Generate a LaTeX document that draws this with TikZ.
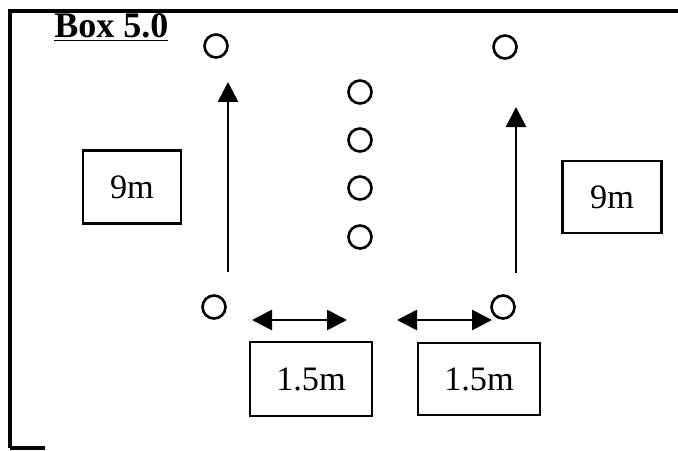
\documentclass[tikz,border=0pt]{standalone}
\usepackage{fontspec}
\setmainfont{Liberation Serif}
\usetikzlibrary{arrows.meta}
\tikzset{
  spot/.style={circle, draw, line width=1.5pt, minimum size=0.46cm, inner sep=0pt},
  lenbox/.style={draw, line width=1.3pt, inner sep=0pt, font=\fontsize{19.5}{22}\selectfont},
  runarrow/.style={line width=1.6pt, -{Triangle[length=0.4cm,width=0.4cm]}},
  gaparrow/.style={line width=1.6pt, {Triangle[length=0.4cm,width=0.4cm]}-{Triangle[length=0.4cm,width=0.4cm]}}
}
\begin{document}
\begin{tikzpicture}[x=0.02cm, y=-0.02cm]
  \useasboundingbox (0,0) rectangle (678,450);
  % frame
  \draw[line width=2pt] (10,448) -- (10,11) -- (678,11);
  \draw[line width=2pt] (10,448) -- (45,448);
  \node[anchor=base west, inner sep=0pt, font=\fontsize{20.5}{24}\selectfont\bfseries] (title) at (54,37) {\underline{Box 5.0}};
  % cones
  \node[spot] (tl) at (216,46) {};
  \node[spot] (tr) at (505,47) {};
  \foreach \y [count=\i] in {92,140,188,237}
    \node[spot] (mid\i) at (360,\y) {};
  \node[spot] (bl) at (214,307) {};
  \node[spot] (br) at (503,307) {};
  % distance labels
  \node[lenbox, minimum width=1.96cm, minimum height=1.46cm] (runL) at (132,187) {9m};
  \node[lenbox, minimum width=1.98cm, minimum height=1.44cm] (runR) at (612,197) {9m};
  \node[lenbox, minimum width=2.44cm, minimum height=1.48cm] (gapL) at (311,379) {1.5m};
  \node[lenbox, minimum width=2.44cm, minimum height=1.44cm] (gapR) at (479,379) {1.5m};
  % arrows
  \coordinate (runLfoot) at (228,272);
  \coordinate (runLtip) at (228,82);
  \coordinate (runRfoot) at (516,273);
  \coordinate (runRtip) at (516,107);
  \draw[runarrow] (runLfoot) -- (runLtip);
  \draw[runarrow] (runRfoot) -- (runRtip);
  \coordinate (gapLa) at (252,320);
  \coordinate (gapLb) at (347,320);
  \coordinate (gapRa) at (397,320);
  \coordinate (gapRb) at (492,320);
  \draw[gaparrow] (gapLa) -- (gapLb);
  \draw[gaparrow] (gapRa) -- (gapRb);
\end{tikzpicture}
\end{document}
